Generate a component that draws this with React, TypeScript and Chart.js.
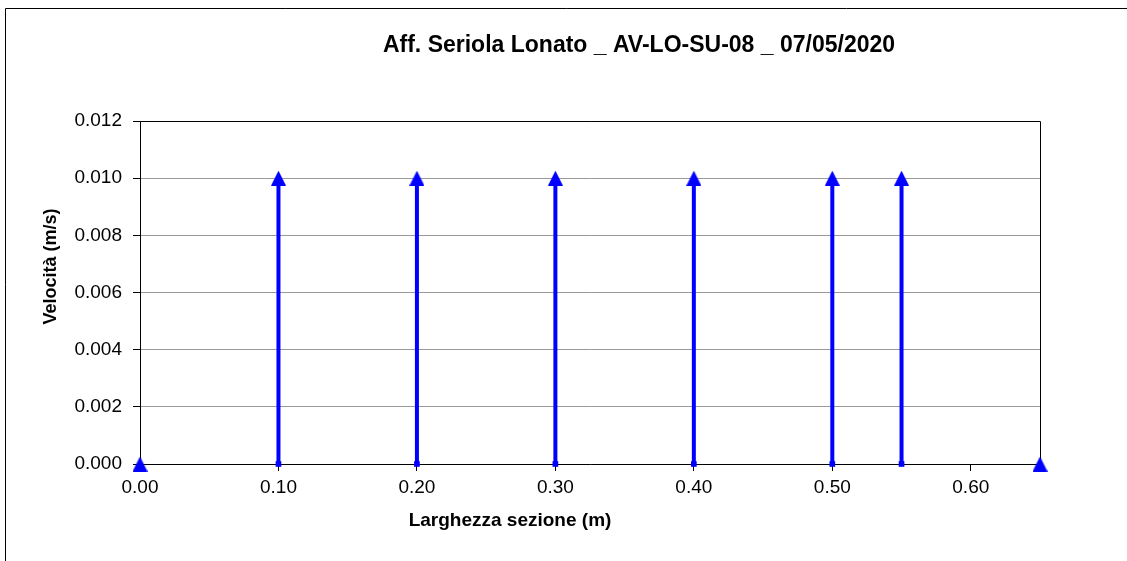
import React, { useEffect, useRef } from "react";
import { Chart, registerables } from "chart.js";

Chart.register(...registerables);

// ---- data ----
const sectionWidths = [0, 0.1, 0.2, 0.3, 0.4, 0.5, 0.55, 0.65];
const velocities = [0, 0.01, 0.01, 0.01, 0.01, 0.01, 0.01, 0];
const xTickValues = [0, 0.1, 0.2, 0.3, 0.4, 0.5, 0.6];
const yTickValues = [0, 0.002, 0.004, 0.006, 0.008, 0.01, 0.012];
const chartTitle = "Aff. Seriola Lonato _ AV-LO-SU-08 _ 07/05/2020";
const xAxisTitle = "Larghezza sezione (m)";
const yAxisTitle = "Velocità (m/s)";

const FONT = "'Liberation Sans', Arial, sans-serif";
const BLUE = "#0000FF";

function makeTriangle(w: number, h: number): HTMLCanvasElement {
  const c = document.createElement("canvas");
  c.width = w;
  c.height = h;
  const ctx = c.getContext("2d")!;
  ctx.fillStyle = BLUE;
  ctx.beginPath();
  ctx.moveTo(w / 2, 0);
  ctx.lineTo(w, h);
  ctx.lineTo(0, h);
  ctx.closePath();
  ctx.fill();
  return c;
}

export default function App() {
  const ref = useRef<HTMLCanvasElement | null>(null);

  useEffect(() => {
    if (!ref.current) return;
    const tri = makeTriangle(15, 15);

    const stems = sectionWidths
      .map((x, i) => ({ x, v: velocities[i] }))
      .filter((p) => p.v > 0)
      .map((p) => ({
        type: "scatter" as const,
        data: [
          { x: p.x, y: 0 },
          { x: p.x, y: p.v },
        ],
        showLine: true,
        borderColor: BLUE,
        backgroundColor: BLUE,
        borderWidth: 4,
        pointStyle: ["rect", "circle"],
        pointRadius: [4, 0],
        pointBorderWidth: 0,
        pointHoverRadius: 0,
        clip: false,
      }));

    const markers = {
      type: "scatter" as const,
      data: sectionWidths.map((x, i) => ({ x, y: velocities[i] })),
      showLine: false,
      pointStyle: tri,
      pointRadius: 8,
      backgroundColor: BLUE,
      borderColor: BLUE,
      clip: false,
    };

    const framePlugin = {
      id: "frame",
      beforeDraw(chart: any) {
        const { ctx, width, height } = chart;
        ctx.save();
        ctx.fillStyle = "#fff";
        ctx.fillRect(0, 0, width, height);
        ctx.strokeStyle = "#000";
        ctx.lineWidth = 1;
        ctx.beginPath();
        ctx.moveTo(5.5, height);
        ctx.lineTo(5.5, 8.5);
        ctx.lineTo(width, 8.5);
        ctx.stroke();
        ctx.restore();
      },
      beforeDatasetsDraw(chart: any) {
        const { ctx, chartArea } = chart;
        ctx.save();
        ctx.strokeStyle = "#000";
        ctx.lineWidth = 1;
        ctx.beginPath();
        ctx.moveTo(chartArea.left, chartArea.top + 0.5);
        ctx.lineTo(chartArea.right + 0.5, chartArea.top + 0.5);
        ctx.lineTo(chartArea.right + 0.5, chartArea.bottom);
        ctx.stroke();
        ctx.restore();
      },
      afterDraw(chart: any) {
        const { ctx } = chart;
        ctx.save();
        ctx.fillStyle = "#000";
        ctx.textAlign = "center";
        ctx.textBaseline = "middle";
        ctx.font = `bold 23px ${FONT}`;
        ctx.fillText(chartTitle, 639, 46);
        ctx.font = `bold 19px ${FONT}`;
        ctx.fillText(xAxisTitle, 510, 521);
        ctx.translate(51, 266.5);
        ctx.rotate(-Math.PI / 2);
        ctx.font = `bold 18px ${FONT}`;
        ctx.fillText(yAxisTitle, 0, 0);
        ctx.restore();
      },
    };

    const chart = new Chart(ref.current, {
      type: "scatter",
      data: { datasets: [...stems, markers] as any },
      options: {
        animation: false,
        responsive: false,
        maintainAspectRatio: false,
        layout: { padding: { top: 121, right: 87, left: 0, bottom: 0 } },
        plugins: {
          legend: { display: false },
          title: { display: false },
          tooltip: { enabled: false },
        },
        scales: {
          x: {
            type: "linear",
            min: 0,
            max: 0.65,
            afterBuildTicks: (scale: any) => {
              scale.ticks = xTickValues.map((v) => ({ value: v }));
            },
            afterFit: (scale: any) => {
              scale.height = 97;
            },
            ticks: {
              color: "#000",
              font: { family: FONT, size: 19 },
              padding: 5,
              maxRotation: 0,
              autoSkip: false,
              callback: (v: any) => Number(v).toFixed(2),
            },
            grid: {
              drawOnChartArea: false,
              drawTicks: true,
              tickLength: 7,
              tickColor: "#000",
            },
            border: { color: "#000", width: 1 },
          },
          y: {
            type: "linear",
            min: 0,
            max: 0.012,
            afterBuildTicks: (scale: any) => {
              scale.ticks = yTickValues.map((v) => ({ value: v }));
            },
            afterFit: (scale: any) => {
              scale.width = 140;
            },
            ticks: {
              color: "#000",
              font: { family: FONT, size: 19 },
              padding: 11,
              autoSkip: false,
              callback: (v: any) => Number(v).toFixed(3),
            },
            grid: {
              color: "#999999",
              lineWidth: 1,
              drawTicks: true,
              tickLength: 7,
              tickColor: "#000",
            },
            border: { color: "#000", width: 1 },
          },
        },
      } as any,
      plugins: [framePlugin],
    });

    return () => chart.destroy();
  }, []);

  return (
    <div style={{ position: "fixed", left: 0, top: 0, width: 1127, height: 561, background: "#fff" }}>
      <canvas ref={ref} width={1127} height={561} style={{ display: "block", width: 1127, height: 561 }} />
    </div>
  );
}
